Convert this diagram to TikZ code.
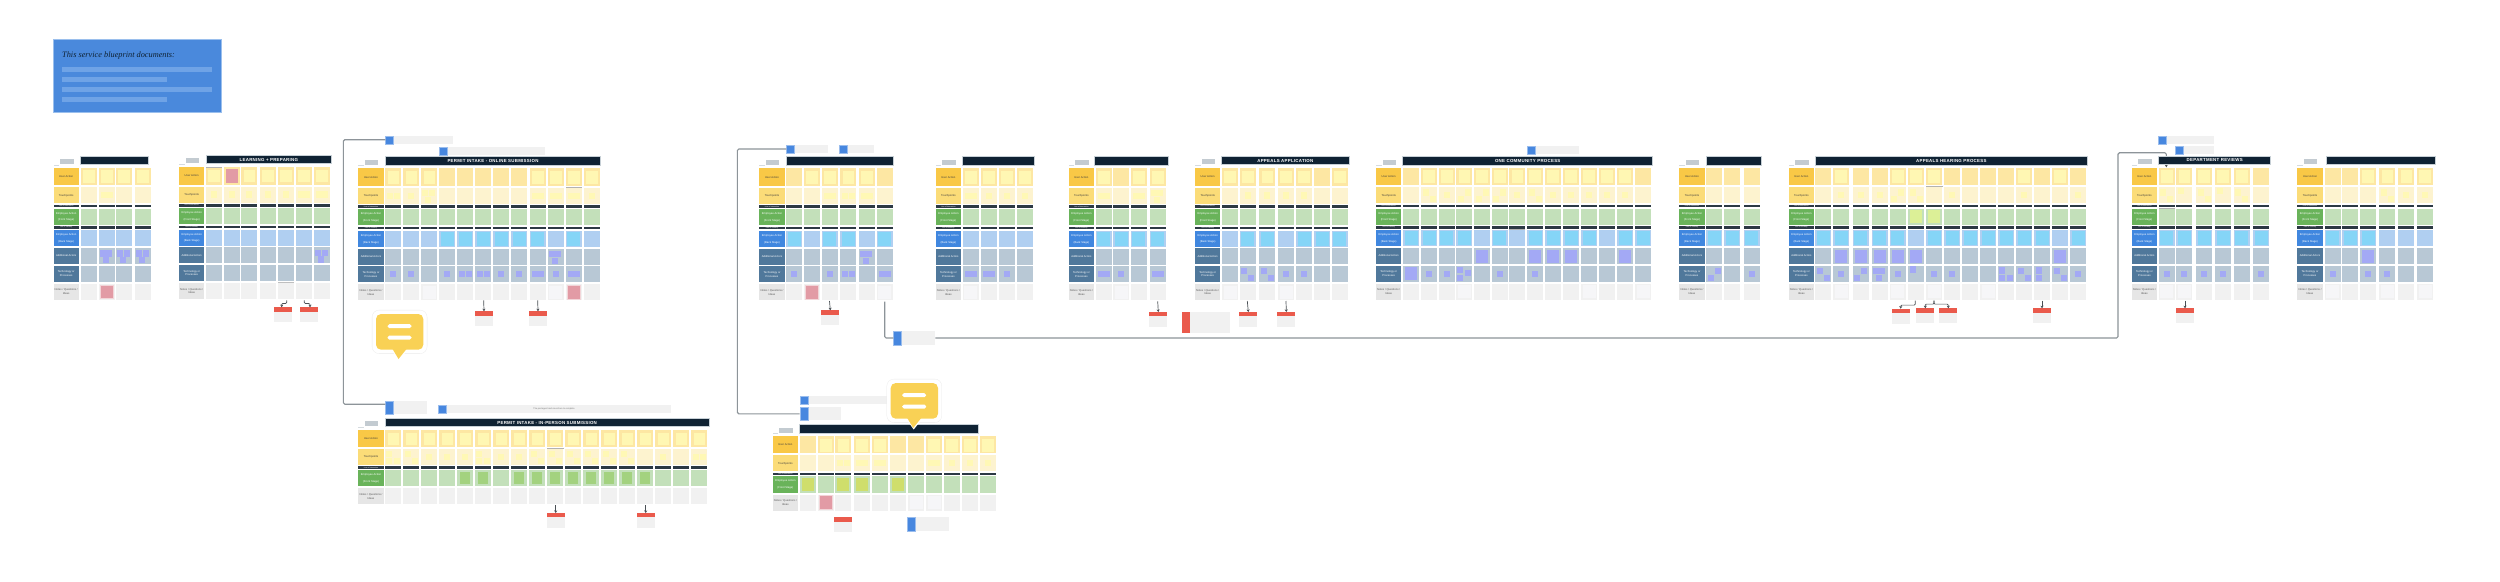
\documentclass[tikz,border=0pt]{standalone}
\usepackage{fontspec}
\setmainfont{Liberation Sans}
\newfontfamily\introfont{Liberation Serif}
\usetikzlibrary{arrows.meta}
\definecolor{uaLab}{HTML}{F9C846}\definecolor{uaCell}{HTML}{FDE7A3}\definecolor{uaIn}{HTML}{FFF7B3}
\definecolor{tpLab}{HTML}{FBDC78}\definecolor{tpCell}{HTML}{FDF3CF}\definecolor{tpIn}{HTML}{FFF8B5}
\definecolor{frLab}{HTML}{69B35A}\definecolor{frCell}{HTML}{C3E0BA}\definecolor{frDark}{HTML}{A3D27F}
\definecolor{frChart}{HTML}{CFDE6C}\definecolor{frLime}{HTML}{DCF097}
\definecolor{bkLab}{HTML}{4087DF}\definecolor{bkCell}{HTML}{B0CFF1}\definecolor{sky}{HTML}{85D5F7}
\definecolor{adLab}{HTML}{50789B}\definecolor{adCell}{HTML}{B8C8D5}\definecolor{purp}{HTML}{A3A9F5}
\definecolor{noLab}{HTML}{E6E6E6}\definecolor{noCell}{HTML}{F1F1F1}\definecolor{faint}{HTML}{F6F6F8}
\definecolor{pink}{HTML}{E29BA5}\definecolor{pinkPale}{HTML}{F2D5D8}
\definecolor{bar}{HTML}{2C3944}\definecolor{head}{HTML}{0F2233}\definecolor{headLine}{HTML}{C7D0D6}
\definecolor{chip}{HTML}{C3CBD1}\definecolor{cardBlue}{HTML}{4787DF}\definecolor{cardRed}{HTML}{EA5A4C}
\definecolor{cardGray}{HTML}{F1F1F1}\definecolor{connGray}{HTML}{8D9499}\definecolor{arrGray}{HTML}{4A5055}
\definecolor{introBlue}{HTML}{4A89DC}\definecolor{introBar}{HTML}{6FA3E6}\definecolor{bubble}{HTML}{F9D155}
\tikzset{
  box/.style={inner sep=0pt,outer sep=0pt,anchor=north west,rectangle},
  lab/.style={box,minimum width=25.4pt,align=center,font=\fontsize{2.7}{6.7}\selectfont,text=#1},
  conn/.style={draw=connGray,line width=1.1pt,rounded corners=1.5pt},
  arr/.style={draw=arrGray,line width=0.7pt,rounded corners=1pt,-{Stealth[length=2.6pt,width=3pt]}},
  headbox/.style={box,fill=head,draw=headLine,line width=0.6pt,text=white,
    font=\fontsize{4.4}{5}\selectfont\bfseries\addfontfeature{LetterSpace=6}},
  bluebar/.style={box,fill=cardBlue,draw=cardBlue!55!white,line width=0.4pt,minimum width=8pt},
  graybody/.style={box,fill=cardGray},
  redbar/.style={box,fill=cardRed,minimum width=18pt,minimum height=4.3pt},
  chipbox/.style={box,fill=chip,minimum width=13.5pt,minimum height=4.9pt},
}
\def\cw{16}
\newcommand\ps[4]{\fill[pc] (#1,#2) rectangle ++(#3,#4);}
\newcommand\psc[5]{\fill[#1] (#2,#3) rectangle ++(#4,#5);}
\newcommand\sm[2]{\ps{#1}{#2}{6}{6.2}}
\expandafter\def\csname pat0\endcsname{}
\expandafter\def\csname pat1\endcsname{\sm{5}{4.8}}
\expandafter\def\csname pat2\endcsname{\sm{2}{4.8}\sm{8.4}{4.8}}
\expandafter\def\csname pat3\endcsname{\sm{1}{2.3}\sm{7.6}{2.3}\sm{4}{9}}
\expandafter\def\csname patd\endcsname{\sm{1.5}{2}\sm{8.5}{8.7}}
\expandafter\def\csname pate\endcsname{\sm{1.5}{8.7}\sm{8.5}{2}}
\expandafter\def\csname patt\endcsname{\sm{0.7}{0.7}\sm{8.7}{4}\sm{0.7}{8.7}}
\expandafter\def\csname patu\endcsname{\sm{1.5}{0.5}}
\expandafter\def\csname pats\endcsname{\sm{1.5}{1.5}\sm{1.5}{8.7}}
\expandafter\def\csname patq\endcsname{\sm{1}{1.5}\sm{1}{9}\sm{9}{9}}
\expandafter\def\csname patB\endcsname{\ps{2}{1.5}{12}{13}}
\expandafter\def\csname paty\endcsname{\psc{uaIn}{2.2}{2.6}{11.6}{12.6}}
\expandafter\def\csname patP\endcsname{\psc{pink}{1.8}{2.2}{12.4}{13.4}}
\expandafter\def\csname patK\endcsname{\psc{sky}{1.5}{1}{13}{14}}
\expandafter\def\csname patD\endcsname{\psc{frDark}{3}{2.3}{10}{11.8}}
\expandafter\def\csname patC\endcsname{\psc{frChart}{2}{1.5}{12}{13}}
\expandafter\def\csname patL\endcsname{\psc{frLime}{2}{1.5}{12}{13}}
\expandafter\def\csname patf\endcsname{\psc{faint}{1.5}{1.5}{13}{13}}
\expandafter\def\csname patp\endcsname{\psc{pinkPale}{0.8}{0.8}{14.4}{14.4}\psc{pink}{1.8}{1.8}{12.4}{12.4}}
\newcommand\bprow[5]{%
  \colorlet{pc}{#4}%
  \foreach \c [count=\i from 0] in {#5} {
    \pgfmathsetmacro\xx{\cols[\i]}
    \fill[#3] (\xx,#1) rectangle ++(\cw,#2);
    \begin{scope}[shift={(\xx,#1)}]\csname pat\c\endcsname\end{scope}
  }}
\newcommand\bpbar[2]{%
  \foreach \c [count=\i from 0] in {#2} {
    \pgfmathsetmacro\xx{\cols[\i]}
    \fill[bar] (\xx,#1) rectangle ++(\cw,2.4);
  }}
\newcommand\bphead[6]{% id, label x, y0, header x1, header x2, title
  \pgfmathsetmacro\hw{#5-#4}
  \node[headbox,minimum width=\hw pt,minimum height=8.2pt] (#1-head) at (#4,#3-11.6) {#6};
  \node[chipbox] (#1-chip) at (#2+6.5,#3-8.6) {};
  \fill[chip!70!white] (#2,#3-2.9) rectangle ++(5.5,0.7);
}
\newcommand\bpseven[9]{% id,x,y0,ua,tp,fr,bk,ad,te  (notes follow)
  \def\bpid{#1}\def\bpx{#2}\def\bpy{#3}\def\bpua{#4}%
  \node[lab=black!75,fill=uaLab,minimum height=17.6pt] (#1-ua) at (#2,#3) {User Action};
  \node[lab=black!75,fill=tpLab,minimum height=16pt] (#1-tp) at (#2,#3+19.6) {Touchpoints};
  \node[lab=white,fill=bar,minimum height=2.4pt,font=\fontsize{1.8}{2}\selectfont] (#1-li) at (#2,#3+37.1) {Line of Interaction};
  \node[lab=white,fill=frLab,minimum height=16pt] (#1-fr) at (#2,#3+41) {Employee Action\\(Front Stage)};
  \node[lab=white,fill=bar,minimum height=2.4pt,font=\fontsize{1.8}{2}\selectfont] (#1-lv) at (#2,#3+58.6) {Line of Visibility};
  \node[lab=white,fill=bkLab,minimum height=16pt] (#1-bk) at (#2,#3+62.7) {Employee Action\\(Back Stage)};
  \node[lab=white,fill=adLab,minimum height=16pt] (#1-ad) at (#2,#3+80.3) {Additional Actors};
  \node[lab=white,fill=adLab,minimum height=16pt,font=\fontsize{2.7}{3.8}\selectfont] (#1-te) at (#2,#3+98.1) {Technology or\\Processes};
  \node[lab=black!65,fill=noLab,minimum height=16pt,font=\fontsize{2.7}{3.8}\selectfont] (#1-no) at (#2,#3+116) {Notes / Questions /\\Ideas};
  \bprow{#3}{17.6}{uaCell}{uaIn}{#4}
  \bprow{#3+19.6}{16}{tpCell}{tpIn}{#5}
  \bpbar{#3+37.1}{#4}
  \bprow{#3+41}{16}{frCell}{frDark}{#6}
  \bpbar{#3+58.6}{#4}
  \bprow{#3+62.7}{16}{bkCell}{sky}{#7}
  \bprow{#3+80.3}{16}{adCell}{purp}{#8}
  \bprow{#3+98.1}{16}{adCell}{purp}{#9}
  \bpnotes}
\newcommand\bpnotes[1]{\bprow{\bpy+116}{16}{noCell}{faint}{#1}}
\newcommand\bpfour[7]{% id,x,y0,ua,tp,fr,notes
  \node[lab=black!75,fill=uaLab,minimum height=17pt] (#1-ua) at (#2,#3) {User Action};
  \node[lab=black!75,fill=tpLab,minimum height=16pt] (#1-tp) at (#2,#3+19) {Touchpoints};
  \node[lab=white,fill=bar,minimum height=2.4pt,font=\fontsize{1.8}{2}\selectfont] (#1-li) at (#2,#3+36.3) {Line of Interaction};
  \node[lab=white,fill=frLab,minimum height=16.4pt] (#1-fr) at (#2,#3+40) {Employee Action\\(Front Stage)};
  \node[lab=black!65,fill=noLab,minimum height=16pt,font=\fontsize{2.7}{3.8}\selectfont] (#1-no) at (#2,#3+58.2) {Notes / Questions /\\Ideas};
  \bprow{#3}{17}{uaCell}{uaIn}{#4}
  \bprow{#3+19}{16}{tpCell}{tpIn}{#5}
  \bpbar{#3+36.3}{#4}
  \bprow{#3+40}{16.4}{frCell}{frDark}{#6}
  \bprow{#3+58.2}{16}{noCell}{faint}{#7}}
\newcommand\bluecard[5]{% name,x,y1,x2,y2
  \pgfmathsetmacro\cwd{#4-#2}\pgfmathsetmacro\chg{#5-#3}
  \node[graybody,minimum width=\cwd pt,minimum height=\chg pt] (#1g) at (#2,#3) {};
  \node[bluebar,minimum height=\chg pt] (#1) at (#2,#3) {};}
\newcommand\redcard[3]{% name,x,y
  \fill[cardGray] (#2,#3) rectangle ++(18,15);
  \node[redbar] (#1) at (#2,#3) {};}
\newcommand\speech[3]{% name, x of yellow left, y of yellow top
  \node[box,fill=white,draw=black!8,line width=0.3pt,rounded corners=7pt,minimum width=55pt,minimum height=43.5pt] (#1h) at (#2-3.9,#3-3.9) {};
  \fill[white] (#2+14,#3+34) -- (#2+23,#3+46.5) -- (#2+33,#3+34) -- cycle;
  \fill[bubble] (#2+16.5,#3+35) -- (#2+22.5,#3+45) -- (#2+30.5,#3+35) -- cycle;
  \node[box,fill=bubble,rounded corners=5pt,minimum width=47.3pt,minimum height=35.7pt] (#1) at (#2,#3) {};
  \fill[white,rounded corners=1.8pt] (#2+11.5,#3+10.2) rectangle ++(24,4);
  \fill[white,rounded corners=1.8pt] (#2+11.5,#3+21.6) rectangle ++(24,4);}
\begin{document}
\begin{tikzpicture}[x=1pt,y=-1pt]
\useasboundingbox (0,0) rectangle (2500,581);
\fill[white] (0,0) rectangle (2500,581);
% intro card
\node[box,fill=introBlue,draw=introBar!70!white,line width=0.5pt,minimum width=168.4pt,minimum height=73.3pt] (intro) at (53.3,39) {};
\node[anchor=west,inner sep=0pt,text=head,font=\introfont\itshape\fontsize{8.3}{10}\selectfont] (introt) at (62,55.3) {This service blueprint documents:};
\fill[introBar] (62,67) rectangle (212,72);
\fill[introBar] (62,77) rectangle (167,82);
\fill[introBar] (62,86.7) rectangle (212,91.7);
\fill[introBar] (62,96.7) rectangle (167,101.7);
% cards
\bluecard{b3a}{385.3}{136}{453}{144}
\bluecard{b3b}{439}{146.7}{544.7}{154.7}
\bluecard{b4a}{385.3}{401}{427.3}{414.3}
\bluecard{b4b}{438.3}{405}{670.7}{413}
\node[anchor=center,inner sep=0pt,text=black!55,font=\fontsize{2.2}{3}\selectfont] (b4t) at (554,409) {The pod agent and record are to complete};
\bluecard{b5a}{786.3}{145}{828.3}{153}
\bluecard{b5b}{839.3}{145}{874}{153}
\bluecard{b7a}{799.7}{396}{886.7}{403.7}
\bluecard{b7b}{799.7}{407.3}{841}{420.3}
\bluecard{b7c}{907}{517.3}{949}{531}
\bluecard{b8}{893.3}{331.3}{935.3}{344.7}
\bluecard{b10}{1527}{145.7}{1579}{153.7}
\bluecard{b13a}{2158}{136}{2214}{144}
\bluecard{b13b}{2175.3}{145.7}{2214}{153.7}
\node[graybody,minimum width=48pt,minimum height=20.7pt] (rbg) at (1182,312) {};
\node[box,fill=cardRed,minimum width=8pt,minimum height=20.7pt] (rb) at (1182,312) {};
\redcard{r2a}{273.7}{307.3}
\redcard{r2b}{300.3}{307.3}
\redcard{r3a}{475}{311.3}
\redcard{r3b}{529}{311.3}
\redcard{r4a}{546.7}{513}
\redcard{r4b}{636.7}{513}
\redcard{r5}{821.3}{310.3}
\redcard{r7}{834}{517.3}
\redcard{r8}{1149.3}{312}
\redcard{r9a}{1239.3}{312}
\redcard{r9b}{1277.3}{312}
\redcard{r12a}{1891.7}{308.7}
\redcard{r12b}{1916.3}{308.3}
\redcard{r12c}{1939.3}{308.3}
\redcard{r12d}{2033}{308.3}
\redcard{r13}{2176}{308.3}
% connector ends
\coordinate (k1) at (343.3,139.7);
\coordinate (k2) at (737.3,149);
\coordinate (k3) at (884.7,301.7);
\coordinate (k4) at (2118,152.7);
\coordinate (k5) at (2166.3,167.3);
\coordinate (s2a) at (286.7,300.3);
\coordinate (s2b) at (304.3,300.3);
\coordinate (s3a) at (483.7,300.3);
\coordinate (s3b) at (537.7,300.3);
\coordinate (s4a) at (555.7,505);
\coordinate (s4b) at (645.7,505);
\coordinate (s5) at (829.5,301);
\coordinate (s8) at (1157.7,301.3);
\coordinate (s9a) at (1247.3,301);
\coordinate (s9b) at (1286,301);
\coordinate (s12a) at (1915.3,300.7);
\coordinate (s12b) at (1934,300.7);
\coordinate (s12d) at (2042,300.7);
\coordinate (s13) at (2185,300.7);
% long connectors
\draw[conn] ([yshift=3.4pt]b4a.west) -| (k1) -- (k1 -| b3a.west);
\draw[conn] (b7b.west) -| (k2) -- (b5a.west);
\draw[conn] (k3) |- (b8.west);
\draw[conn] (b8g.east) -| (k4) -| ([yshift=4pt]k5);
\draw[arr] ([yshift=4pt]k5) -- (k5);
% short connectors
\draw[arr] (s2a) -- ++(0,3.2) -| (r2a.north -| 281.7,0);
\draw[arr] (s2b) -- ++(0,3.2) -| (r2b.north -| 310,0);
\draw[arr] (s3a) -- (r3a.north);
\draw[arr] (s3b) -- (r3b.north);
\draw[arr] (s4a) -- (r4a.north);
\draw[arr] (s4b) -- (r4b.north);
\draw[arr] (s5) -- (r5.north);
\draw[arr] (s8) -- (r8.north);
\draw[arr] (s9a) -- (r9a.north);
\draw[arr] (s9b) -- (r9b.north);
\draw[arr] (s12a) -- ++(0,4.4) -| (r12a.north);
\draw[arr] (s12b) -- ++(0,3.4) -| (r12b.north);
\draw[arr] (s12b) -- ++(0,3.4) -| (r12c.north);
\draw[arr] (s12d) -- (r12d.north);
\draw[arr] (s13) -- (r13.north);
% table 1
\def\cols{{80.7,98.7,116,135}}
\bphead{t1}{53.5}{167.7}{80.7}{148.7}{}
\bpseven{t1}{53.5}{167.7}{y,y,y,y}{0,2,0,0}{0,0,0,0}{0,0,0,0}{0,3,3,3}{0,0,0,0}{0,p,0,0}
% table 2
\def\cols{{206,224,241.3,260,278,296,314}}
\bphead{t2}{179}{167}{206}{331.7}{LEARNING + PREPARING}
\bpseven{t2}{179}{167}{y,P,y,y,y,y,y}{1,1,1,1,1,2,2}{0,0,0,0,0,0,0}{0,0,0,0,0,0,0}{0,0,0,0,0,0,3}{0,0,0,0,0,0,0}{0,0,0,0,0,0,0}
\fill[black!30] (206,167.2) rectangle ++(15.5,0.8);
\fill[black!25] (278,282.3) rectangle ++(16,0.8);
% table 3
\def\cols{{385.3,403.3,421.3,439.3,457.3,475.3,493.3,511.3,529.7,547.7,565.7,583.7}}
\bphead{t3}{358.3}{168.3}{385.3}{600.7}{PERMIT INTAKE - ONLINE SUBMISSION}
\bpseven{t3}{358.3}{168.3}{y,y,y,0,0,0,0,0,y,y,y,y}{2,1,3,0,0,0,0,0,2,2,2,1}{0,0,0,0,0,0,0,0,0,0,0,0}{0,0,0,K,K,K,K,K,K,0,K,0}{0,0,0,0,0,0,0,0,0,3,0,0}{1,1,0,1,2,2,1,1,2,1,2,0}{0,0,f,0,0,0,0,0,0,f,p,0}
\fill[black!30] (565.7,187) rectangle ++(16,0.8);
% table 4
\def\cols{{385.3,403.3,421.3,439.3,457.3,475.3,493.3,511.3,529.3,547.3,565.3,583.3,601.3,619.3,637.3,655.3,673.3,691.3}}
\bphead{t4}{358.3}{430}{385.3}{709}{PERMIT INTAKE - IN-PERSON SUBMISSION}
\bpfour{t4}{358.3}{430}{y,y,y,y,y,y,y,y,y,y,y,y,y,y,y,y,y,y}{q,d,1,1,1,q,1,1,d,d,d,d,d,d,0,1,0,2}{0,0,0,0,D,D,0,D,D,D,D,D,D,D,D,0,0,0}{0,0,0,0,0,0,0,0,0,0,0,0,0,0,0,0,0,0}
\fill[black!30] (546.7,448.3) rectangle ++(17,0.8);
% table 5
\def\cols{{786.3,804,821.7,840.3,858.7,876.7}}
\bphead{t5}{759.3}{168.3}{786.3}{893.3}{}
\bpseven{t5}{759.3}{168.3}{0,y,y,y,y,0}{0,0,2,2,2,0}{0,0,0,0,0,0}{K,0,K,K,0,K}{0,0,0,0,3,0}{1,0,1,2,0,2}{0,p,0,0,0,f}
% table 6
\def\cols{{962.7,980.7,999,1016.7}}
\bphead{t6}{935.7}{168.3}{962.3}{1034}{}
\bpseven{t6}{935.7}{168.3}{y,y,y,y}{2,1,1,1}{0,0,0,0}{0,0,0,0}{0,0,0,0}{2,2,1,0}{f,0,0,0}
% table 7
\def\cols{{799.7,817.7,835.3,854,872,890,908,926,944,962,980}}
\bphead{t7}{772.7}{436.3}{799.7}{978.7}{}
\bpfour{t7}{772.7}{436.3}{0,y,y,y,y,0,0,y,y,y,y}{0,0,2,2,2,0,0,2,1,1,1}{C,0,C,C,0,C,0,0,0,0,0}{0,p,0,0,0,0,f,f,0,0,0}
% table 8
\def\cols{{1095.7,1113,1130.7,1149.7}}
\bphead{t8}{1068.7}{168.3}{1094.3}{1168}{}
\bpseven{t8}{1068.7}{168.3}{y,0,y,y}{2,0,2,3}{0,0,0,0}{K,K,K,K}{0,0,0,0}{2,1,0,2}{0,f,0,0}
% table 9
\def\cols{{1222,1239.7,1259.3,1278,1296,1314,1331.7}}
\bphead{t9}{1195}{168}{1221.3}{1349.3}{APPEALS APPLICATION}
\bpseven{t9}{1195}{168}{y,y,y,y,y,0,y}{0,1,1,1,1,0,0}{0,0,0,0,0,0,0}{0,K,K,0,K,K,K}{0,0,0,0,0,0,0}{0,d,d,1,1,0,0}{f,0,0,f,0,0,0}
% table 10
\def\cols{{1403,1421,1438.7,1456.3,1474,1491.7,1509.3,1527,1545,1563,1581,1599,1617,1635}}
\bphead{t10}{1376}{168.2}{1402.7}{1652.7}{ONE COMMUNITY PROCESS}
\bpseven{t10}{1376}{167.7}{0,y,y,y,y,y,y,y,y,y,y,y,y,0}{0,d,1,e,e,e,1,d,1,1,1,1,1,0}{0,0,0,0,0,0,0,0,0,0,0,0,0,0}{K,K,K,K,0,K,0,K,K,K,K,0,K,K}{0,0,0,0,B,0,0,B,B,B,0,0,B,0}{B,1,1,t,0,1,0,1,0,0,0,0,0,0}{0,0,0,f,0,0,0,0,0,0,f,0,0,f}
\fill[black!30] (1509.3,229.3) rectangle ++(16,0.8);
% table 11
\def\cols{{1706,1724,1743.7}}
\bphead{t11}{1679.3}{168.2}{1706}{1761.7}{}
\bpseven{t11}{1679.3}{167.7}{0,0,0}{0,0,0}{0,0,0}{K,K,K}{0,0,0}{e,0,1}{0,0,0}
% table 12
\def\cols{{1815.3,1833,1852.7,1871.7,1889.7,1908,1926,1944,1962,1980,1998,2016,2034,2052,2070}}
\bphead{t12}{1788.7}{168.2}{1815.3}{2087.3}{APPEALS HEARING PROCESS}
\bpseven{t12}{1788.7}{167.7}{0,y,0,0,y,y,y,0,0,0,0,y,0,y,0}{0,1,1,1,e,d,0,1,0,0,0,1,0,0,1}{0,0,0,0,0,L,L,0,0,0,0,0,0,0,0}{K,K,K,K,K,0,K,K,K,K,K,K,K,0,K}{0,B,B,B,B,B,0,0,0,0,0,0,0,B,0}{d,1,e,3,1,u,1,1,0,0,q,d,s,d,1}{0,f,0,0,f,0,f,0,0,f,0,0,0,0,0}
\fill[black!30] (1926,186.3) rectangle ++(16.5,0.8);
% table 13
\def\cols{{2158.7,2176.3,2196,2215,2233.7,2253}}
\bphead{t13}{2131.7}{167.7}{2158.7}{2270.7}{DEPARTMENT REVIEWS}
\bpseven{t13}{2131.7}{167.7}{y,y,y,y,y,0}{d,u,d,u,d,0}{0,0,0,0,0,0}{K,K,K,K,K,K}{0,0,0,0,0,0}{1,1,1,1,0,1}{f,f,0,0,0,0}
\fill[black!30] (2158.7,208.3) rectangle ++(16,0.6);
% table 14
\def\cols{{2324.7,2342.3,2360,2379.3,2398.3,2417}}
\bphead{t14}{2297.3}{167.7}{2326.7}{2435}{}
\bpseven{t14}{2297.3}{167.7}{0,0,y,y,y,y}{0,0,0,d,1,1}{0,0,0,0,0,0}{K,K,K,0,0,0}{0,0,B,0,0,0}{1,0,1,1,0,0}{f,0,0,f,0,f}
% speech bubbles
\speech{bub1}{376}{314}
\speech{bub2}{890.7}{383}
\end{tikzpicture}
\end{document}
